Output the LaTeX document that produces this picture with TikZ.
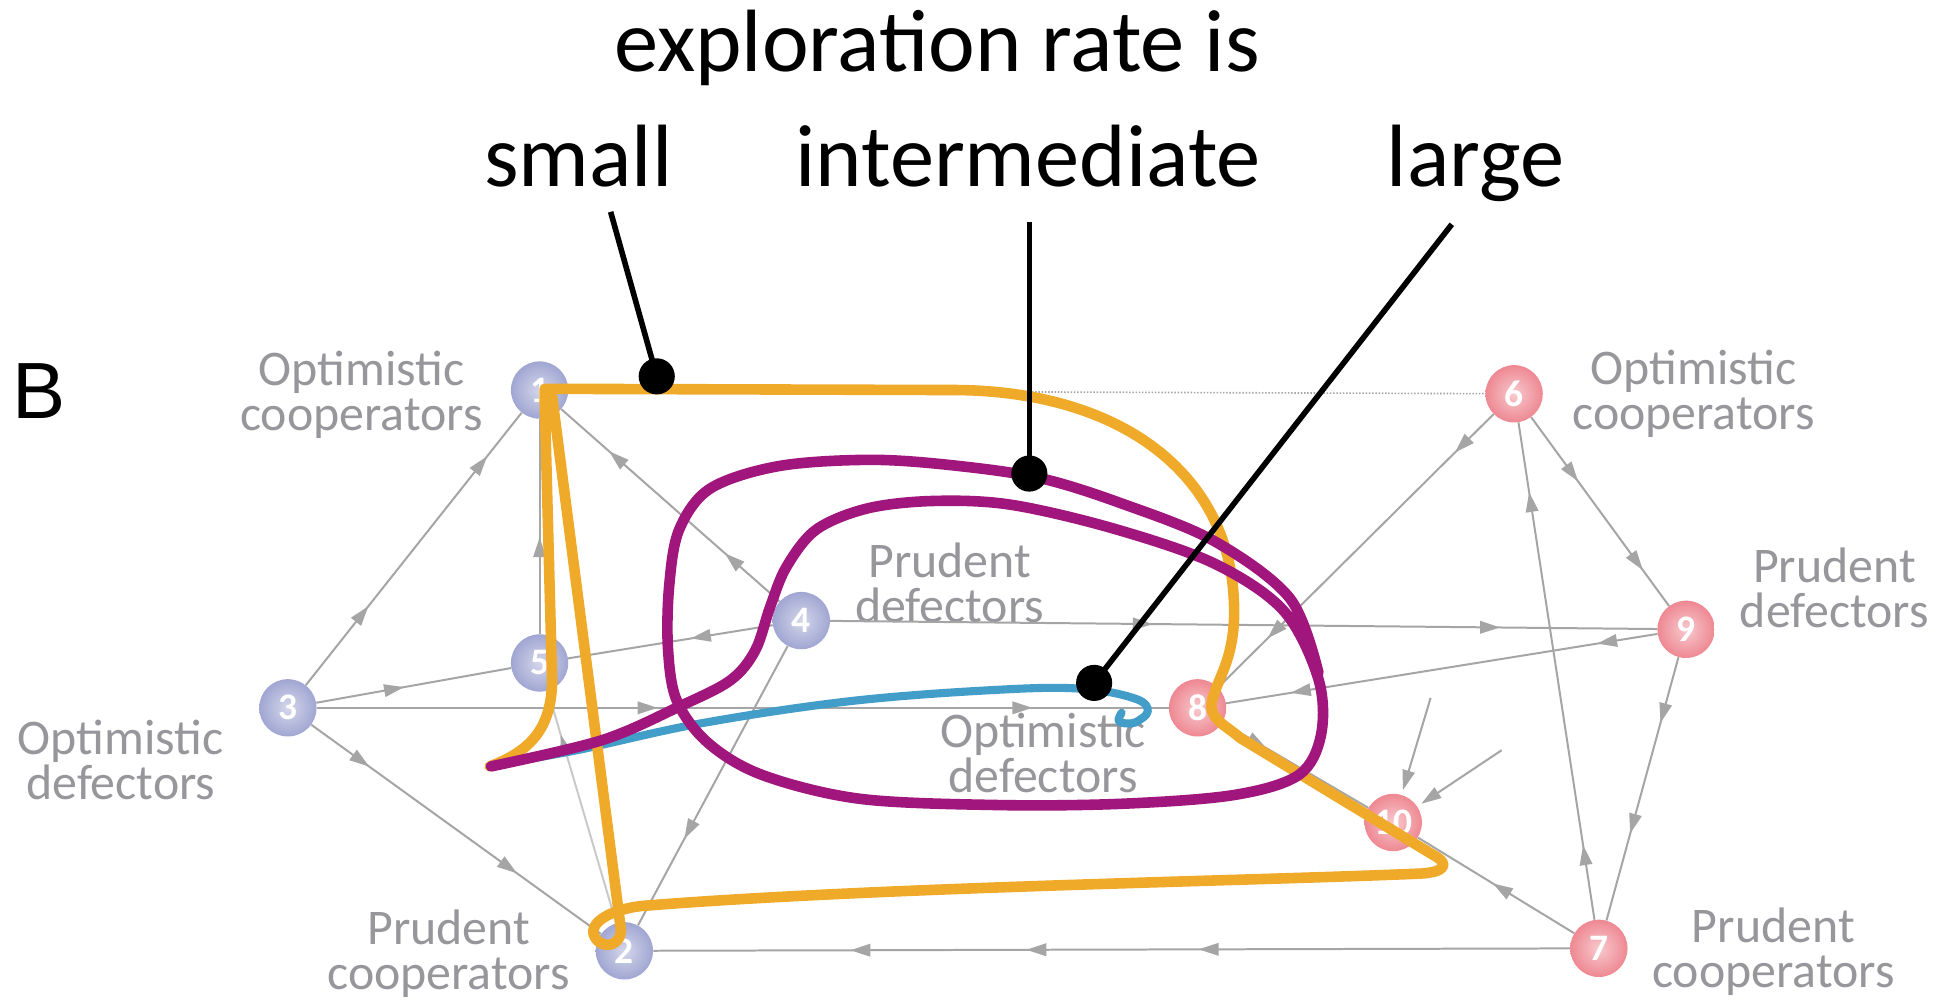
\documentclass[tikz,border=0pt]{standalone}
\usepackage{fontspec}
\setmainfont{Carlito}
\newfontfamily\arialfont{Liberation Sans}
\usetikzlibrary{arrows.meta,decorations.markings}
\definecolor{edgegray}{RGB}{165,165,165}
\definecolor{labgray}{RGB}{150,150,155}
\definecolor{orangeC}{RGB}{240,170,42}
\definecolor{purpleC}{RGB}{160,22,124}
\definecolor{blueC}{RGB}{66,158,200}
\definecolor{nodeblue}{RGB}{160,166,210}
\definecolor{nodered}{RGB}{238,136,146}
\begin{document}
\begin{tikzpicture}[x=1pt,y=-1pt,
  edge/.style={draw=edgegray,line width=1.6pt},
  arr/.style={postaction={decorate,decoration={markings,mark=at position #1 with {\arrow{Triangle[length=16pt,width=10pt,color=edgegray]}}}}},
  bnode/.style={circle,minimum size=46pt,inner sep=0pt,inner color=nodeblue!45!white,outer color=nodeblue,text=white,font=\fontsize{30}{30}\selectfont\bfseries},
  rnode/.style={bnode,inner color=nodered!45!white,outer color=nodered},
  lab/.style={text=labgray,align=center,inner sep=0pt,font=\fontsize{40}{36}\selectfont},
  head/.style={anchor=base,inner sep=0pt,font=\fontsize{71}{85}\selectfont},
  leader/.style={line width=4.5pt,draw=black},
  dot/.style={circle,fill=black,minimum size=29pt,inner sep=0pt},
  orangeline/.style={draw=orangeC,line width=8.5pt,line join=round,line cap=round},
  purpleline/.style={draw=purpleC,line width=8.5pt,line join=round,line cap=round},
  blueline/.style={draw=blueC,line width=6.5pt,line join=round,line cap=round}
]
\useasboundingbox (0,0) rectangle (1568,802);
\fill[white] (0,0) rectangle (1568,802);

% headings
\node[head] (title) at (752,57) {exploration rate is};
\node[head] (small) at (464,150) {small};
\node[head] (inter) at (825,150) {intermediate};
\node[head] (large) at (1184,150) {large};
\node[anchor=base west,inner sep=0pt,font=\arialfont\fontsize{64}{64}\selectfont] (B) at (10,336) {B};

% nodes
\node[bnode] (n1) at (433,313) {1};
\node[bnode] (n2) at (501,763) {2};
\node[bnode] (n3) at (231,568) {3};
\node[bnode] (n4) at (643,498) {4};
\node[bnode] (n5) at (433,532) {5};
\node[rnode] (n6) at (1215,316) {6};
\node[rnode] (n7) at (1283,761) {7};
\node[rnode] (n8) at (961,568) {8};
\node[rnode] (n9) at (1353,505) {9};
\node[rnode] (n10) at (1118,660) {10};

% labels
\node[lab] (l1) at (290,317) {Optimistic\\cooperators};
\node[lab] (l3) at (97,610) {Optimistic\\defectors};
\node[lab] (l2) at (360,765) {Prudent\\cooperators};
\node[lab] (l4) at (762,468) {Prudent\\defectors};
\node[lab] (l6) at (1359,316) {Optimistic\\cooperators};
\node[lab] (l9) at (1472,472) {Prudent\\defectors};
\node[lab] (l8) at (837,604) {Optimistic\\defectors};
\node[lab] (l7) at (1423,764) {Prudent\\cooperators};

% network edges
\draw[edgegray,line width=1.3pt,dash pattern=on 1.2pt off 1.4pt] (n1) -- (n6);
\draw[edge,arr=0.29,arr=0.84] (n3) -- (n1);
\draw[edge,arr=0.25,arr=0.78] (n4) -- (n1);
\draw[edge,arr=0.45] (n3) -- (n5);
\draw[edge,arr=0.4] (n4) -- (n5);
\draw[edge,arr=0.45] (n5) -- (n1);
\draw[edge,arr=0.4,arr=0.84] (n3) -- (n8);
\draw[edge,arr=0.39,arr=0.81] (n4) -- (n9);
\draw[edge,arr=0.14,arr=0.85] (n9) -- (n8);
\draw[edge,arr=0.14,arr=0.82] (n6) -- (n8);
\draw[edge,arr=0.34,arr=0.81] (n6) -- (n9);
\draw[edge,arr=0.15,arr=0.86] (n7) -- (n6);
\draw[edge,arr=0.25,arr=0.67] (n9) -- (n7);
\draw[edge,arr=0.52] (n7) -- (n10);
\draw[edge,arr=0.405,arr=0.593,arr=0.785] (n7) -- (n2);
\draw[edge,arr=0.2,arr=0.71] (n3) -- (n2);
\draw[edge,arr=0.69] (n4) -- (n2);
\draw[edge,draw=edgegray!60,arr=0.81] (n2) -- (n5);
\draw[edge,arr=0.3] (n8) -- (n10);
\coordinate (f1) at (1148,560);
\coordinate (f2) at (1205,602);
\draw[edge,-{Triangle[length=16pt,width=10pt]},shorten >=4pt] (f1) -- (n10);
\draw[edge,-{Triangle[length=16pt,width=10pt]},shorten >=4pt] (f2) -- (n10);

% trajectories
\draw[blueline] plot[smooth,tension=0.6] coordinates {(400,613) (463,602) (565,580) (688,562) (811,553) (872,553) (912,561) (921,571) (910,580) (898,579) (900,572)};

\draw[orangeline] (393,615) .. controls (425,603) and (443,585) .. (443,545)
  -- (437,318) -- (437,312) -- (770,313)
  .. controls (900,315) and (985,380) .. (990,480)
  .. controls (993,530) and (975,545) .. (972,566)
  .. controls (972,578) and (985,583) .. (995,592)
  -- (1150,686)
  .. controls (1165,694) and (1158,700) .. (1140,701)
  .. controls (1000,707) and (700,712) .. (515,727)
  .. controls (488,730) and (470,742) .. (478,753)
  .. controls (485,763) and (500,758) .. (498,744)
  -- (443,318);

\draw[purpleline] plot[smooth,tension=0.55] coordinates {(394,615) (483,594) (545,567) (586,546) (606,522) (618,487) (631,455) (655,425) (696,408) (749,402) (811,405) (893,424) (974,452) (1030,490) (1058,545) (1060,590) (1042,622) (990,638) (900,645) (800,646) (690,641) (612,622) (568,596) (543,562) (536,520) (537,470) (545,425) (570,392) (625,374) (700,369) (770,374) (836,384) (900,404) (974,434) (1035,480) (1058,540)};

% leaders
\node[dot] (d1) at (527,302) {};
\node[dot] (d2) at (826,380) {};
\node[dot] (d3) at (878,548) {};
\coordinate (t1) at (490,170);
\coordinate (t2) at (826,178);
\coordinate (t3) at (1165,180);
\draw[leader] (t1) -- (d1.center);
\draw[leader] (t2) -- (d2.center);
\draw[leader] (t3) -- (d3.center);
\end{tikzpicture}
\end{document}
